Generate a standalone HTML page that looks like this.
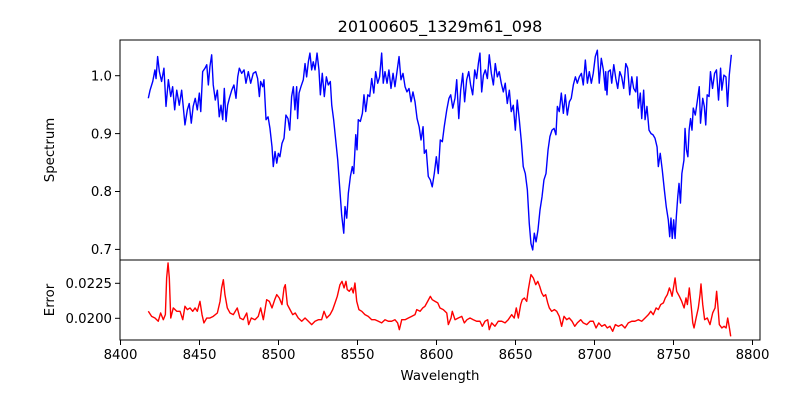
<!DOCTYPE html>
<html>
<head>
<meta charset="utf-8">
<style>
  html, body { margin: 0; padding: 0; background: #fff; }
  svg { display: block; font-family: "DejaVu Sans", "Liberation Sans", sans-serif; }
</style>
</head>
<body>
<svg id="chart" width="800" height="400" viewBox="0 0 800 400">
  <rect x="0" y="0" width="800" height="400" fill="#fff"/>
  <text x="440" y="32" text-anchor="middle" font-size="16" fill="#000">20100605_1329m61_098</text>
  <g id="top-panel"></g>
  <g id="bottom-panel"></g>
  <text transform="translate(54,150) rotate(-90)" text-anchor="middle" font-size="13.3" fill="#000">Spectrum</text>
  <text transform="translate(54,300) rotate(-90)" text-anchor="middle" font-size="13.3" fill="#000">Error</text>
  <text x="440" y="380" text-anchor="middle" font-size="13.3" fill="#000">Wavelength</text>
</svg>
<script>
const specWave = [8417.6,8418.7,8420.4,8421.8,8422.5,8423.5,8424.6,8426,8427.5,8428.8,8430.3,8431.8,8433,8434.3,8435.6,8437.2,8438.7,8439.7,8440.8,8442.3,8443.5,8444.8,8446,8447.3,8448.6,8449.9,8450.8,8452,8453.5,8454.6,8455.6,8456.6,8457.7,8458.7,8460,8461.3,8462.5,8463.6,8464.7,8465.7,8466.8,8467.8,8468.9,8470.4,8471.8,8473.1,8474.2,8475.2,8476.7,8478.2,8479.4,8480.9,8482.4,8484,8485.6,8486.8,8487.9,8488.7,8490,8490.8,8492.1,8493.4,8494.6,8495.9,8496.7,8497.8,8498.9,8499.9,8500.9,8502.2,8503.5,8504.7,8506,8507.1,8508.3,8509.4,8510.4,
8511.5,8512.1,8513,8514.2,8515.7,8516.8,8517.8,8518.9,8519.9,8521,8522,8523.1,8524.4,8525.6,8526.5,8527.7,8529,8530.3,8531.5,8532.8,8533.7,8534.9,8536.2,8537.5,8538.7,8540,8541.3,8542.1,8543.2,8544.2,8545.5,8546.7,8547.6,8548.9,8549.7,8550.5,8551.8,8553.1,8554.1,8555.2,8556.5,8557.7,8559,8560.3,8561.5,8562.8,8564,8565.3,8566.3,8567.4,8568.7,8569.9,8571.2,8572.5,8573.7,8575,8576.3,8577.5,8578.8,8580.1,8581.3,8582.6,8583.9,8585.1,8586.4,8587.7,8589,8590.2,8591.5,8592.3,8593.5,8594.8,8596.1,8597.3,8598.6,8599.9,8601.1,8602.4,8603.7,8604.9,8606.5,8607.9,
8609,8610.3,8611.7,8612.8,8614.1,8615.3,8616.6,8617.8,8619.1,8620.4,8621.6,8622.9,8624.2,8625.4,8626.5,8627.5,8628.6,8629.7,8630.9,8632.2,8633.4,8634.7,8636,8637.2,8638.5,8639.7,8641,8642.3,8643.5,8644.8,8646.1,8647.3,8648.6,8649.9,8651.1,8652.4,8653.7,8654.9,8656.2,8657.5,8658.7,8659.8,8660.9,8661.9,8663,8664.2,8665.5,8666.8,8668,8669.3,8670.6,8671.8,8673.1,8674.4,8675.6,8676.5,8677.7,8679,8680.3,8681.5,8682.8,8684.1,8685.3,8686.6,8687.9,8689.1,8690.4,8691.7,8692.9,8694.2,8695.5,8696.7,8698,8699.2,8700.5,8701.8,8703,8704.3,8705.6,8706.8,
8707.1,8707.9,8708.7,8710,8710.9,8712.2,8713.5,8714.7,8716,8717.2,8718.5,8719.8,8721,8722.3,8723.6,8724.8,8726.1,8726.9,8727.7,8729,8729.9,8731.1,8732,8733.2,8734.5,8735.8,8737,8738.3,8739.6,8740.4,8741.6,8742.9,8744.2,8745.4,8746.7,8747.6,8748.4,8749.2,8750.1,8751,8751.8,8752.7,8753.5,8754.4,8755.3,8756.6,8757.3,8758.2,8759.1,8759.9,8760.8,8761.7,8762.5,8763.8,8765,8766.3,8767.1,8768.5,8769.5,8770.4,8771.3,8772.5,8773.4,8774.7,8776,8777.2,8778.5,8779.8,8780.6,8781.9,8783.2,8784.2,8785.3,8786.6];
const specFlux = [0.961,0.975,0.990,1.010,0.995,1.033,1.007,0.990,1.013,0.947,0.993,0.964,0.981,0.941,0.975,0.949,0.975,0.947,0.915,0.941,0.952,0.918,0.947,0.961,0.941,0.970,0.938,1.007,1.013,1.019,0.984,1.016,1.036,0.984,0.958,0.975,0.929,0.949,0.924,0.978,0.921,0.949,0.961,0.975,0.984,0.961,0.998,1.013,1.004,1.010,0.987,1.007,0.987,1.004,1.007,0.995,0.964,0.990,0.981,0.993,0.924,0.929,0.909,0.877,0.843,0.869,0.849,0.866,0.860,0.883,0.892,0.932,0.926,0.906,0.964,0.981,0.941,
0.981,0.926,0.970,0.981,0.993,1.021,0.998,1.024,1.039,1.010,1.024,1.010,1.039,1.010,0.967,1.004,0.964,0.998,0.984,0.990,0.949,0.924,0.889,0.854,0.808,0.759,0.728,0.774,0.754,0.797,0.826,0.843,0.831,0.898,0.872,0.924,0.921,0.935,0.967,0.938,0.967,0.964,0.995,0.970,1.007,0.987,0.998,1.039,0.987,1.007,0.987,1.010,0.978,1.004,0.981,1.007,1.033,0.993,1.004,0.981,0.972,0.978,0.955,0.972,0.955,0.926,0.912,0.889,0.912,0.866,0.872,0.826,0.820,0.808,0.831,0.860,0.831,0.889,0.886,0.912,0.941,0.961,
0.967,0.944,0.961,0.993,0.926,0.975,1.004,0.955,0.993,1.007,0.984,0.967,1.010,0.995,1.021,1.039,0.972,1.001,1.010,0.995,1.036,1.004,0.984,1.021,0.998,1.007,0.987,0.972,0.987,0.952,0.975,0.938,0.949,0.906,0.958,0.924,0.886,0.843,0.831,0.803,0.745,0.710,0.699,0.728,0.713,0.733,0.768,0.791,0.820,0.831,0.872,0.895,0.906,0.909,0.898,0.947,0.938,0.970,0.935,0.967,0.932,0.955,0.961,0.984,0.998,0.987,0.998,1.004,0.984,1.027,0.987,1.007,0.987,1.004,1.033,1.044,0.987,1.030,1.010,0.975,
1.007,0.967,1.007,1.010,0.987,1.019,0.995,0.978,1.007,0.998,0.978,1.021,1.013,0.967,0.998,0.978,0.972,0.998,0.944,0.970,0.926,0.975,0.924,0.947,0.906,0.900,0.898,0.892,0.877,0.843,0.866,0.837,0.803,0.774,0.751,0.722,0.754,0.719,0.751,0.719,0.757,0.791,0.814,0.780,0.831,0.854,0.909,0.872,0.860,0.906,0.926,0.906,0.944,0.932,0.955,0.981,0.918,0.961,0.947,0.915,0.967,0.964,1.007,0.978,1.004,1.010,0.958,1.013,0.975,1.001,0.998,0.947,1.001,1.036];

const errWave = [8417.6,8419.7,8421.8,8423.9,8425.4,8427.1,8428.4,8429.2,8430.1,8430.9,8431.8,8433.4,8435.6,8437.7,8439.4,8440.8,8442.3,8444,8445.7,8447.2,8448.6,8450.3,8451.6,8452.8,8454.6,8456.6,8458.7,8461.3,8463,8464,8465.1,8466.1,8467.6,8469.3,8471.4,8473.9,8475.6,8477.7,8479.9,8481.1,8482.8,8485.1,8487.2,8488.7,8490.4,8492.5,8494.2,8495.9,8497.6,8498.9,8500.5,8502.2,8503.5,8504.3,8505.6,8507.3,8509,8510.6,8512.5,8514.7,8516.8,8518.9,8521,8523.1,8525.2,8527.3,8528.8,8530.5,8532.6,8534.3,8535.8,8537.2,8538.9,8540.2,8541.5,8542.7,8543.5,8544.8,
8546.3,8547.3,8548.4,8549.5,8550.9,8552.7,8554.7,8556.8,8559,8561.1,8563.2,8565.3,8567.4,8569.5,8571.6,8573.7,8575.4,8576.5,8578,8580.1,8582.2,8584.3,8586.4,8587.5,8589.6,8591.3,8592.7,8594.4,8596.1,8597.3,8599.1,8600.8,8602.2,8604.3,8606.5,8607.5,8609.2,8610,8611.7,8613.8,8616,8617.6,8619.3,8621.2,8623.3,8625.4,8627.5,8629,8630.7,8632.4,8633.4,8634.9,8637,8639.1,8641.3,8643.4,8645.4,8647.6,8649.2,8650.5,8651.8,8653.3,8654.3,8655.6,8657.1,8658.1,8659.2,8659.8,8661.3,8662.8,8664.1,8665.3,8666.6,8667.8,8669.1,8670.4,8671.4,8672.9,8674.6,
8676.1,8677.7,8679.2,8680.7,8682.4,8684,8685.8,8687.5,8689.1,8691.3,8692.9,8695.1,8697.2,8699.2,8701,8702.7,8704.6,8706.5,8708.1,8709.8,8711.5,8713.2,8715.1,8717.2,8719.3,8721.4,8723.6,8725.6,8727.7,8729.9,8732,8734.1,8735.6,8737.2,8739,8740.4,8741.9,8743.6,8744.8,8746.1,8747.4,8748.2,8749.1,8750.3,8751,8752,8753.7,8755.2,8756.7,8757.9,8758.8,8760,8761.1,8762.2,8763,8764.3,8765.7,8766.8,8767.4,8768.5,8769.7,8771.4,8773.1,8774.8,8776.3,8777.3,8778.2,8779,8780.6,8782,8783.3,8784.3,8785.4,8786.2];
const errVals = [0.02050,0.02014,0.02002,0.01979,0.02038,0.01990,0.02026,0.02288,0.02395,0.02288,0.02002,0.02074,0.02050,0.02050,0.01990,0.02086,0.02062,0.02074,0.02050,0.02074,0.02050,0.02121,0.02026,0.01967,0.02002,0.02002,0.02014,0.02038,0.02121,0.02217,0.02276,0.02169,0.02074,0.02038,0.02026,0.02074,0.02002,0.01990,0.02038,0.01955,0.02002,0.01990,0.02014,0.02074,0.01990,0.02133,0.02121,0.02074,0.02133,0.02169,0.02145,0.02098,0.02217,0.02240,0.02098,0.02062,0.02026,0.02038,0.02002,0.01979,0.02002,0.01979,0.01955,0.01979,0.01990,0.01990,0.02050,0.02002,0.02026,0.02062,0.02110,0.02157,0.02240,0.02264,0.02217,0.02264,0.02205,0.02193,
0.02217,0.02181,0.02252,0.02121,0.02062,0.02050,0.02026,0.02014,0.01990,0.01990,0.01979,0.01967,0.01990,0.01979,0.01979,0.01990,0.01967,0.01919,0.01990,0.01990,0.02002,0.02014,0.02026,0.02062,0.02050,0.02074,0.02086,0.02121,0.02157,0.02133,0.02121,0.02110,0.02074,0.02062,0.02038,0.01955,0.02002,0.02050,0.01990,0.02002,0.02014,0.01967,0.01990,0.02002,0.01990,0.01979,0.01979,0.01943,0.01979,0.01990,0.01919,0.01967,0.01943,0.01979,0.01979,0.01967,0.01990,0.02026,0.02002,0.02074,0.02002,0.02098,0.02133,0.02145,0.02121,0.02205,0.02276,0.02312,0.02288,0.02240,0.02264,0.02229,0.02181,0.02157,0.02169,0.02110,0.02074,0.02050,0.02062,
0.02050,0.02014,0.01943,0.02014,0.01990,0.02002,0.01979,0.01943,0.01967,0.01990,0.01967,0.01955,0.01979,0.01979,0.01931,0.01967,0.01943,0.01955,0.01931,0.01943,0.01907,0.01955,0.01943,0.01955,0.01931,0.01967,0.01979,0.01979,0.01990,0.01979,0.02002,0.02026,0.02050,0.02026,0.02074,0.02062,0.02098,0.02110,0.02145,0.02169,0.02217,0.02193,0.02157,0.02240,0.02288,0.02193,0.02157,0.02121,0.02074,0.02145,0.02098,0.02217,0.02098,0.01967,0.01931,0.02002,0.02074,0.02169,0.02245,0.02098,0.01990,0.02002,0.01955,0.02038,0.02074,0.02193,0.02074,0.01955,0.01931,0.01943,0.01931,0.02002,0.01931,0.01871];

const xTicks = [8400,8450,8500,8550,8600,8650,8700,8750,8800];
const specTicks = [0.7,0.8,0.9,1.0];
const specTickLabels = ["0.7","0.8","0.9","1.0"];
const errTicks = [0.02,0.0225];
const errTickLabels = ["0.0200","0.0225"];

const NS = "http://www.w3.org/2000/svg";
const L = 120, R = 760;
const xScale = w => 120.5 + (w - 8400) * 1.58;
const ySpec = v => 75.7 + (1.0 - v) * 579;
const yErr = v => 318.3 + (0.02 - v) * 14000;

function mk(tag, attrs, parent) {
  const el = document.createElementNS(NS, tag);
  for (const k in attrs) el.setAttribute(k, attrs[k]);
  parent.appendChild(el);
  return el;
}

function drawPanel(g, top, bottom, xs, ys, yFn, color, ticks, labels, showX, namePrefix) {
  const line = mk('polyline', {points: xs.map((w, i) => xScale(w).toFixed(2) + ',' + yFn(ys[i]).toFixed(2)).join(' '), fill: 'none', stroke: color, 'stroke-width': 1.4, 'stroke-linejoin': 'round'}, g);
  
  
  ticks.forEach((t, i) => {
    const y = yFn(t);
    const tk = mk('line', {x1: L - 5, x2: L, y1: y, y2: y, stroke: '#000', 'stroke-width': 1}, g);
    
    
    const tx = mk('text', {x: L - 8, y: y + 4.7, 'text-anchor': 'end', 'font-size': 13.3, fill: '#000'}, g);
    tx.textContent = labels[i];
    
    
  });
  if (showX) {
    xTicks.forEach(t => {
      const x = xScale(t);
      const tk = mk('line', {x1: x, x2: x, y1: bottom, y2: bottom + 5, stroke: '#000', 'stroke-width': 1}, g);
      
      
      const tx = mk('text', {x: x, y: bottom + 19, 'text-anchor': 'middle', 'font-size': 13.3, fill: '#000'}, g);
      tx.textContent = String(t);
      
      
    });
  }
  const frame = mk('rect', {x: L, y: top, width: R - L, height: bottom - top, fill: 'none', stroke: '#000', 'stroke-width': 1}, g);
  
  
}

drawPanel(document.getElementById('top-panel'), 40, 260, specWave, specFlux, ySpec, '#0000ff', specTicks, specTickLabels, false, 'spectrum');
drawPanel(document.getElementById('bottom-panel'), 260, 340, errWave, errVals, yErr, '#ff0000', errTicks, errTickLabels, true, 'error');
</script>
</body>
</html>
